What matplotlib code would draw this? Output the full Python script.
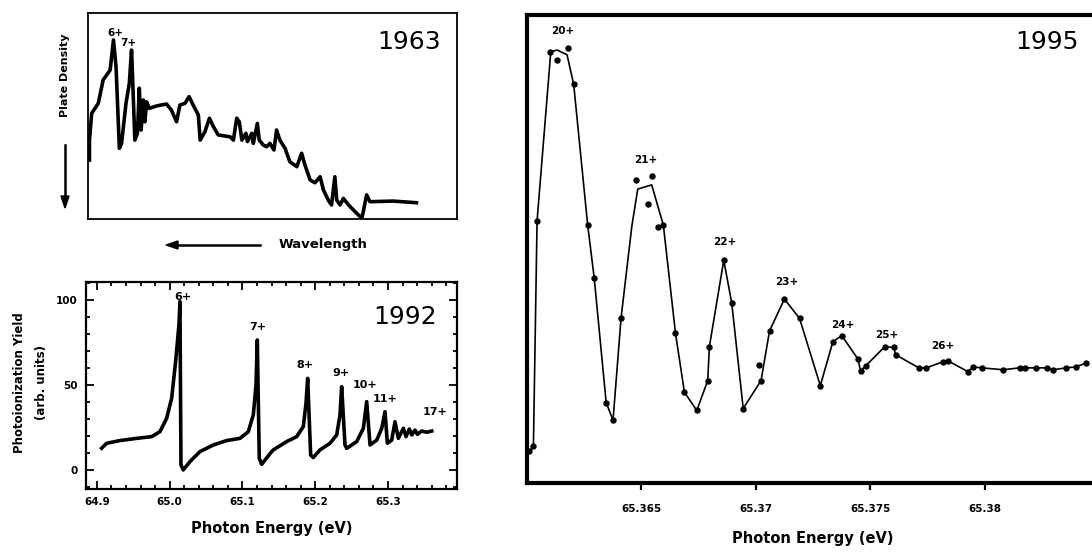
import numpy as np
import matplotlib.pyplot as plt

# 1963 photographic plate trace (arbitrary position / density units)
plate_pos = [0.4, 0.4, 1.0, 2.8, 4.1, 6.0, 6.9, 7.6, 8.5, 9.1, 10.3, 11.2, 11.8, 12.3,
             12.7, 13.4, 13.9, 14.4, 15.0, 15.4, 15.9, 16.6, 18.6, 21.3, 22.6, 24.0,
             24.9, 26.3, 27.4, 28.5, 29.9, 30.4, 31.7, 32.9, 34.0, 35.3, 38.5, 39.4,
             40.3, 41.0, 41.7, 42.8, 43.2, 44.4, 44.8, 45.9, 46.4, 47.5, 48.4, 49.3,
             50.4, 51.1, 52.0, 53.4, 54.7, 56.6, 57.9, 58.8, 60.2, 61.5, 62.9, 63.8,
             65.1, 66.0, 66.9, 67.4, 68.3, 69.2, 70.6, 74.2, 74.6, 75.5, 76.4, 82.7, 89.0]
plate_den = [28.6, 38.3, 51.3, 56.2, 67.5, 72.3, 86.9, 73.9, 34.3, 36.7, 56.2, 65.9, 82.0, 57.8,
             38.3, 41.6, 63.5, 43.2, 57.8, 47.2, 56.9, 53.7, 54.9, 55.8, 52.9, 47.2,
             55.3, 56.2, 59.4, 55.3, 50.5, 38.3, 42.4, 48.9, 44.8, 40.8, 39.9, 38.3,
             48.9, 47.2, 38.3, 41.6, 37.6, 41.6, 36.7, 46.4, 38.3, 35.9, 35.1, 36.7,
             33.5, 43.2, 38.3, 34.3, 27.8, 25.4, 31.9, 26.2, 18.9, 17.6, 20.5, 14.1,
             9.2, 6.8, 20.5, 9.2, 6.8, 10.0, 6.8, 0.3, 3.6, 11.7, 8.4, 8.7, 7.9]

# 1992 photoionization yield
e92 = [64.9065, 64.9133, 64.9316, 64.9546, 64.9752, 64.9866, 64.9958, 65.0027, 65.0086,
       65.0127, 65.0141, 65.0155, 65.0186, 65.0278, 65.0416, 65.0599, 65.0783, 65.0966,
       65.1080, 65.1149, 65.1186, 65.1204, 65.1231, 65.1264, 65.1401, 65.1424, 65.1607,
       65.1745, 65.1836, 65.1873, 65.1896, 65.1937, 65.1973, 65.2065, 65.2203, 65.2295,
       65.2340, 65.2363, 65.2409, 65.2432, 65.2570, 65.2661, 65.2707, 65.2753, 65.2845,
       65.2914, 65.2959, 65.2991, 65.3051, 65.3096, 65.3142, 65.3211, 65.3247, 65.3293,
       65.3326, 65.3371, 65.3403, 65.3463, 65.3532, 65.3600]
y92 = [12.8, 15.7, 17.3, 18.6, 19.6, 22.5, 30.4, 42.2, 65.7,
       85.3, 99.0, 2.9, 0.0, 4.9, 10.8, 14.7, 17.3, 18.6,
       22.5, 32.4, 50.0, 76.5, 6.9, 3.3, 10.8, 11.8, 16.7,
       19.6, 25.5, 39.2, 53.9, 8.8, 7.3, 11.8, 15.7, 20.6,
       32.4, 49.0, 14.7, 12.7, 16.7, 24.5, 40.2, 14.7, 17.6,
       24.5, 34.3, 15.7, 17.6, 28.4, 18.6, 24.5, 19.6, 24.1,
       20.6, 23.5, 21.0, 22.9, 22.2, 22.9]
labels92 = ["6+", "7+", "8+", "9+", "10+", "11+", "17+"]
label92_e = [65.0175, 65.1210, 65.1860, 65.2350, 65.2680, 65.2960, 65.3640]
label92_y = [99, 81, 59, 54, 47, 39, 31]

# 1995 high resolution scan: smoothed curve and measured points
fit_e = [65.36010, 65.36028, 65.36044, 65.36104, 65.36133, 65.36175, 65.36204, 65.36265,
         65.36294, 65.36346, 65.36376, 65.36411, 65.36458, 65.36484, 65.36545, 65.36596,
         65.36649, 65.36688, 65.36742, 65.36790, 65.36797, 65.36860, 65.36895, 65.36945,
         65.37023, 65.37060, 65.37125, 65.37191, 65.37282, 65.37337, 65.37376, 65.37446,
         65.37458, 65.37480, 65.37563, 65.37603, 65.37611, 65.37713, 65.37745, 65.37818,
         65.37840, 65.37927, 65.37949, 65.37988, 65.38080, 65.38153, 65.38175, 65.38226,
         65.38273, 65.38299, 65.38357, 65.38398, 65.38442]
fit_y = [6.8, 7.8, 56.0, 92.2, 92.5, 91.5, 85.2, 55.2,
         43.7, 17.2, 13.4, 35.2, 54.8, 62.8, 63.7, 55.1,
         32.0, 19.4, 15.5, 21.9, 29.1, 47.6, 38.4, 15.9,
         21.9, 32.5, 39.3, 35.2, 20.8, 30.2, 31.5, 26.5,
         24.0, 25.0, 29.1, 29.0, 27.4, 24.6, 24.6, 25.9,
         26.1, 23.8, 24.8, 24.6, 24.2, 24.6, 24.6, 24.6,
         24.6, 24.2, 24.6, 24.8, 25.6]
pts_e = [65.36010, 65.36028, 65.36044, 65.36102, 65.36131, 65.36180, 65.36204, 65.36265,
         65.36294, 65.36346, 65.36376, 65.36411, 65.36475, 65.36531, 65.36546, 65.36574,
         65.36596, 65.36649, 65.36688, 65.36742, 65.36790, 65.36797, 65.36860, 65.36895,
         65.36945, 65.37012, 65.37023, 65.37060, 65.37125, 65.37191, 65.37282, 65.37337,
         65.37376, 65.37446, 65.37458, 65.37480, 65.37563, 65.37603, 65.37611, 65.37713,
         65.37745, 65.37818, 65.37840, 65.37927, 65.37949, 65.37988, 65.38080, 65.38153,
         65.38175, 65.38226, 65.38273, 65.38299, 65.38357, 65.38398, 65.38442]
pts_y = [6.8, 7.8, 56.0, 92.2, 90.4, 92.9, 85.2, 55.2,
         43.7, 17.2, 13.4, 35.2, 64.8, 59.6, 65.6, 54.7,
         55.1, 32.0, 19.4, 15.5, 21.9, 29.1, 47.6, 38.4,
         15.9, 25.3, 21.9, 32.5, 39.3, 35.2, 20.8, 30.2,
         31.5, 26.5, 24.0, 25.0, 29.1, 29.0, 27.4, 24.6,
         24.6, 25.9, 26.1, 23.8, 24.8, 24.6, 24.2, 24.6,
         24.6, 24.6, 24.6, 24.2, 24.6, 24.8, 25.6]
labels95 = ["20+", "21+", "22+", "23+", "24+", "25+", "26+"]
label95_e = [65.36158, 65.36521, 65.36866, 65.37137, 65.37380, 65.37572, 65.37818]
label95_y = [96.5, 69.0, 51.5, 43.0, 33.8, 31.6, 29.3]

W, H = 1092, 553
fig = plt.figure(figsize=(W / 100, H / 100), dpi=100)
plt.rcParams['font.family'] = ['DejaVu Sans']


def box(l, t, r, b):
    return [l / W, 1 - b / H, (r - l) / W, (b - t) / H]


# ---- 1963 panel
ax1 = fig.add_axes(box(88, 13, 457, 219))
ax1.plot(plate_pos, plate_den, color='black', lw=2.6, solid_joinstyle='round')
ax1.set_xlim(0, 100)
ax1.set_ylim(0, 100)
ax1.set_xticks([])
ax1.set_yticks([])
for s in ax1.spines.values():
    s.set_linewidth(1.3)
ax1.text(7.4, 88, "6+", fontsize=7.5, fontweight='bold', ha='center', va='bottom')
ax1.text(10.9, 83, "7+", fontsize=7.5, fontweight='bold', ha='center', va='bottom')
ax1.text(0.955, 0.86, "1963", transform=ax1.transAxes, fontsize=18, ha='right', va='center')

fig.text(65 / W, 1 - 75 / H, "Plate Density", rotation=90, fontsize=8, fontweight='bold',
         ha='center', va='center')
fig.add_artist(plt.Line2D([65 / W, 65 / W], [1 - 145 / H, 1 - 200 / H], color='black', lw=1.8))
fig.patches.append(plt.Polygon([[65 / W - 4 / W, 1 - 196 / H], [65 / W + 4 / W, 1 - 196 / H],
                                [65 / W, 1 - 208 / H]], closed=True, color='black',
                               transform=fig.transFigure))
fig.text(323 / W, 1 - 245 / H, "Wavelength", fontsize=9.5, fontweight='bold',
         ha='center', va='center')
fig.add_artist(plt.Line2D([260 / W, 176 / W], [1 - 245 / H, 1 - 245 / H], color='black', lw=1.8))
fig.patches.append(plt.Polygon([[178 / W, 1 - 241 / H], [178 / W, 1 - 249 / H],
                                [166 / W, 1 - 245 / H]], closed=True, color='black',
                               transform=fig.transFigure))

# ---- 1992 panel
ax2 = fig.add_axes(box(86, 282, 457, 489))
ax2.plot(e92, y92, color='black', lw=2.6, solid_joinstyle='round')
ax2.set_xlim(64.885, 65.3948)
ax2.set_ylim(-11.2, 110.6)
ax2.set_xticks([64.9, 65.0, 65.1, 65.2, 65.3])
ax2.set_xticklabels(["64.9", "65.0", "65.1", "65.2", "65.3"])
ax2.set_xticks(np.arange(64.90, 65.395, 0.02), minor=True)
ax2.set_yticks([0, 50, 100])
ax2.set_yticks(np.arange(-10, 111, 10), minor=True)
ax2.tick_params(which='both', direction='in', top=True, right=True, width=1.3,
                labelsize=7.5, pad=6)
ax2.tick_params(which='major', length=6)
ax2.tick_params(which='minor', length=3)
for lab in ax2.get_xticklabels() + ax2.get_yticklabels():
    lab.set_fontweight('bold')
for s in ax2.spines.values():
    s.set_linewidth(1.6)
for t, e, y in zip(labels92, label92_e, label92_y):
    ax2.text(e, y, t, fontsize=8, fontweight='bold', ha='center', va='bottom')
ax2.text(0.86, 0.83, "1992", transform=ax2.transAxes, fontsize=18, ha='center', va='center')
ax2.set_xlabel("Photon Energy (eV)", fontsize=10.5, fontweight='bold', labelpad=10)
fig.text(20 / W, 1 - 383 / H, "Photoionization Yield", rotation=90, fontsize=8.5,
         fontweight='bold', ha='center', va='center')
fig.text(41 / W, 1 - 383 / H, "(arb. units)", rotation=90, fontsize=8.5,
         fontweight='bold', ha='center', va='center')

# ---- 1995 panel
ax3 = fig.add_axes(box(527, 15, 1099, 483))
ax3.plot(fit_e, fit_y, color='black', lw=1.2)
ax3.plot(pts_e, pts_y, 'o', color='black', ms=3.6)
ax3.set_xlim(65.36, 65.385)
ax3.set_ylim(0, 100)
ax3.set_xticks([65.365, 65.37, 65.375, 65.38])
ax3.set_xticklabels(["65.365", "65.37", "65.375", "65.38"])
ax3.set_yticks([])
ax3.tick_params(axis='x', direction='out', length=5, width=1.6, labelsize=7.5, pad=10)
for lab in ax3.get_xticklabels():
    lab.set_fontweight('bold')
for s in ax3.spines.values():
    s.set_linewidth(3.0)
for t, e, y in zip(labels95, label95_e, label95_y):
    ax3.text(e, y, t, fontsize=7.5, fontweight='bold', ha='center', va='center')
ax3.text(1047 / W, 1 - 42 / H, "1995", transform=fig.transFigure, fontsize=18,
         ha='center', va='center')
ax3.set_xlabel("Photon Energy (eV)", fontsize=10.5, fontweight='bold', labelpad=12)

fig.savefig("out.png", dpi=100)
